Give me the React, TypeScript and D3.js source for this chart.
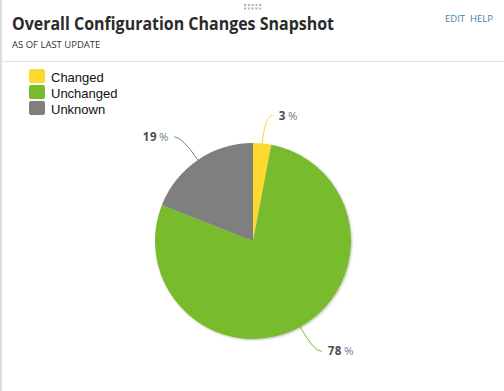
import React from 'react';
import * as d3 from 'd3';

// slice data, in drawing order (clockwise from 12 o'clock)
const categories = ['Changed', 'Unchanged', 'Unknown'];
const shares = [3, 78, 19];
const sliceColors = ['#fdd82f', '#78bc2e', '#7f7f7f'];

const title = 'Overall Configuration Changes Snapshot';
const subtitle = 'AS OF LAST UPDATE';

export default function App() {
    const width = 504;
    const height = 391;
    const cx = 253;
    const cy = 241;
    const radius = 98;

    const rows = categories.map((c, i) => ({ name: c, value: shares[i], color: sliceColors[i] }));

    const pie = d3.pie<any>().sort(null).value(d => d.value);
    const arcs = pie(rows);

    const arc = d3.arc<any>().innerRadius(0).outerRadius(radius);
    // points used for the connectors
    const edgeArc = d3.arc<any>().innerRadius(radius - 1).outerRadius(radius - 1);
    const elbowArc = d3.arc<any>().innerRadius(radius + 28).outerRadius(radius + 28);

    const total = d3.sum(shares);

    // drag handle dots
    const dots: [number, number][] = [];
    for (let r = 0; r < 2; r++) for (let c = 0; c < 5; c++) dots.push([244 + c * 3.8, 4 + r * 3.5]);

    return (
        <svg width={width} height={height} style={{ position: 'absolute', left: 0, top: 0, display: 'block', background: '#fff' }}>
            <defs>
                <filter id="pieShadow" x="-20%" y="-20%" width="140%" height="140%">
                    <feDropShadow dx="1" dy="1" stdDeviation="1.2" floodColor="#000" floodOpacity="0.25" />
                </filter>
            </defs>

            {/* panel frame */}
            <rect x={0} y={0} width={2} height={height} fill="#dcdcdc" />
            <line x1={2} x2={width} y1={61.5} y2={61.5} stroke="#e2e2e2" />
            {dots.map((d, i) => <rect key={i} x={d[0]} y={d[1]} width={2} height={2} fill="#b0b0b0" />)}

            {/* header */}
            <text x={12} y={30} fontFamily="'Open Sans', sans-serif" fontWeight={700} fontSize={17} textLength={322} lengthAdjust="spacingAndGlyphs" fill="#2b2b2b">{title}</text>
            <text x={12} y={48} fontFamily="'Open Sans', sans-serif" fontSize={9.5} fill="#333">{subtitle}</text>
            <text x={493} y={22} textAnchor="end" fontFamily="'Open Sans', sans-serif" fontSize={9.5} fill="#3a85b3">EDIT&#160;&#160;HELP</text>

            {/* legend */}
            {rows.map((r, i) => (
                <g key={r.name} transform={`translate(29, ${69 + i * 16})`}>
                    <rect x={0} y={0} width={16} height={14} rx={2} fill={r.color} />
                    <text x={22} y={13} fontFamily="Arial, 'Liberation Sans', sans-serif" fontSize={13} fill="#111">{r.name}</text>
                </g>
            ))}

            {/* pie */}
            <g transform={`translate(${cx},${cy})`}>
                <g filter="url(#pieShadow)">
                    {arcs.map(a => <path key={a.data.name} d={arc(a) as string} fill={a.data.color} />)}
                </g>
                {arcs.map(a => {
                    const mid = (a.startAngle + a.endAngle) / 2;
                    const right = mid < Math.PI;
                    const s = edgeArc.centroid(a);
                    const e = elbowArc.centroid(a);
                    const endX = e[0] + (right ? 8 : -8);
                    const tx = endX + (right ? 6 : -5);
                    const pct = Math.round(a.data.value / total * 100);
                    return (
                        <g key={'lab' + a.data.name}>
                            <path d={`M${s[0]},${s[1]} Q${e[0]},${e[1]} ${endX},${e[1]}`} fill="none" stroke={a.data.color} strokeWidth={1} />
                            <text x={tx} y={e[1]} dy="0.35em" textAnchor={right ? 'start' : 'end'}
                                fontFamily="'Open Sans', sans-serif" fontSize={11.5} letterSpacing={0.6}>
                                <tspan fontWeight={700} fill="#4d4d4d">{pct}</tspan>
                                <tspan fill="#6d7f90" dx={2}>%</tspan>
                            </text>
                        </g>
                    );
                })}
            </g>
        </svg>
    );
}
